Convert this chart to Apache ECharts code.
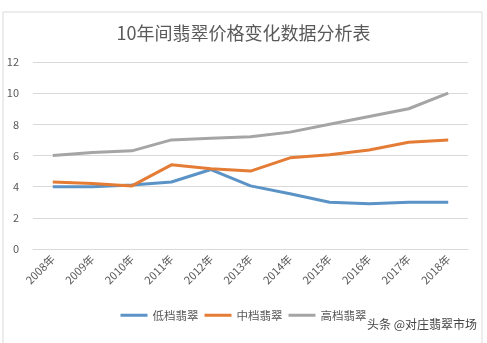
<!DOCTYPE html>
<html><head><meta charset="utf-8">
<script src="https://cdn.jsdelivr.net/npm/echarts@6/dist/echarts.min.js"></script>
<style>html,body{margin:0;padding:0;background:#fff}#c{width:487px;height:343px}</style>
</head><body><div id="c"></div>
<script>
const categories = ['2008年','2009年','2010年','2011年','2012年','2013年','2014年','2015年','2016年','2017年','2018年'];
const lowGrade = [4.0, 4.0, 4.1, 4.3, 5.1, 4.05, 3.55, 3.0, 2.9, 3.0, 3.0];
const midGrade = [4.3, 4.2, 4.05, 5.4, 5.15, 5.0, 5.85, 6.05, 6.35, 6.85, 7.0];
const highGrade = [6.0, 6.2, 6.3, 7.0, 7.1, 7.2, 7.5, 8.0, 8.5, 9.0, 10.0];
const seriesNames = ['低档翡翠','中档翡翠','高档翡翠'];
const colors = ['#5B93C6','#E47C36','#A5A5A5'];
const font = '"Noto Sans CJK SC", "Microsoft YaHei", sans-serif';

const chart = echarts.init(document.getElementById('c'));
chart.setOption({
  animation: false,
  color: colors,
  title: {
    text: '10年间翡翠价格变化数据分析表',
    left: 'center', top: 19,
    textStyle: {fontFamily: font, fontSize: 18, fontWeight: 'normal', color: '#595959'}
  },
  legend: {
    bottom: 17, left: 'center',
    itemWidth: 27, itemHeight: 3, itemGap: 6,
    icon: 'rect',
    textStyle: {fontFamily: font, fontSize: 11.5, color: '#595959'},
    data: seriesNames
  },
  grid: {left: 33, right: 19, top: 62, bottom: 94},
  xAxis: {
    type: 'category', data: categories, boundaryGap: true,
    axisLine: {show: true, lineStyle: {color: '#D9D9D9'}},
    axisTick: {show: false},
    axisLabel: {rotate: 45, fontFamily: font, fontSize: 11, color: '#595959', margin: 8}
  },
  yAxis: {
    type: 'value', min: 0, max: 12, interval: 2,
    axisLine: {show: false}, axisTick: {show: false},
    axisLabel: {fontFamily: font, fontSize: 11, color: '#595959', margin: 14},
    splitLine: {lineStyle: {color: '#D9D9D9'}}
  },
  graphic: [
    {type: 'rect', shape: {x: 3, y: 12, width: 479, height: 340}, style: {fill: 'none', stroke: '#D9D9D9', lineWidth: 1}},
    {type: 'text', right: 10, bottom: 13, style: {text: '头条 @对庄翡翠市场', fontFamily: font, fontSize: 12, fill: '#444'}}
  ],
  series: [
    {name: seriesNames[0], type: 'line', data: lowGrade, symbol: 'none', lineStyle: {width: 3}},
    {name: seriesNames[1], type: 'line', data: midGrade, symbol: 'none', lineStyle: {width: 3}},
    {name: seriesNames[2], type: 'line', data: highGrade, symbol: 'none', lineStyle: {width: 3}}
  ]
});
</script></body></html>
